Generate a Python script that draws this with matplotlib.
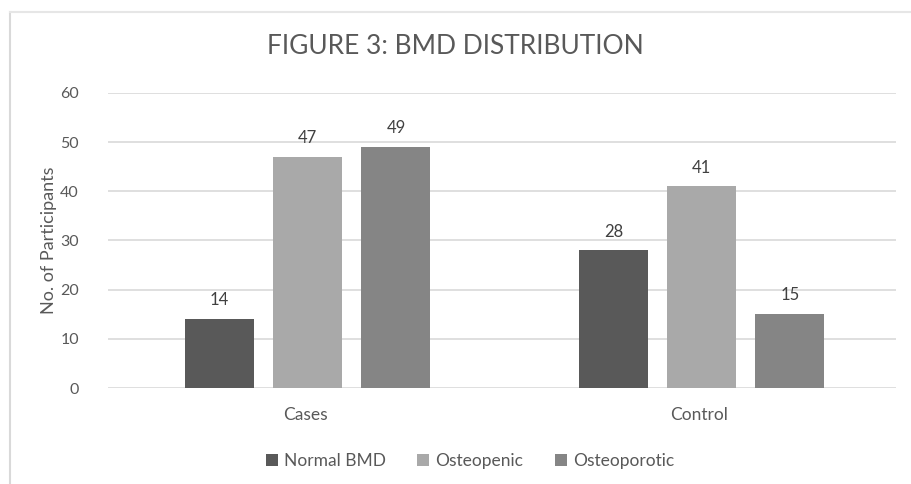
import matplotlib
matplotlib.use("Agg")
import matplotlib.pyplot as plt
import numpy as np
from matplotlib.lines import Line2D

groups = ["Cases", "Control"]
series = ["Normal BMD", "Osteopenic", "Osteoporotic"]
normal_bmd = [14, 28]
osteopenic = [47, 41]
osteoporotic = [49, 15]
y_ticks = [0, 10, 20, 30, 40, 50, 60]

colors = ["#595959", "#a9a9a9", "#858585"]
text_col = "#595959"

plt.rcParams['font.family'] = ['Lato', 'DejaVu Sans']

fig = plt.figure(figsize=(9.11, 4.84), dpi=100)
ax = fig.add_axes([0.1186, 0.1983, 0.8650, 0.6096])

x = np.arange(len(groups))
width = 0.175
step = 0.2236
for i, (name, vals) in enumerate(zip(series, [normal_bmd, osteopenic, osteoporotic])):
    pos = x + (i - 1) * step + 0.007
    bars = ax.bar(pos, vals, width, color=colors[i], label=name, zorder=3)
    for b, v in zip(bars, vals):
        ax.text(b.get_x() + b.get_width() / 2, v + 2.2, str(v),
                ha="center", va="bottom", fontsize=12, color="#404040")

ax.set_xlim(-0.5, 1.5)
ax.set_ylim(0, 60)
ax.set_yticks(y_ticks)
ax.set_xticks(x)
ax.set_xticklabels(groups, fontsize=12.5)
ax.tick_params(axis="both", length=0, colors=text_col)
ax.tick_params(axis="y", labelsize=11.5, pad=21)
ax.tick_params(axis="x", pad=14)
ax.grid(axis="y", color="#d9d9d9", linewidth=1.2, zorder=0)
for s in ax.spines.values():
    s.set_visible(False)

ax.set_ylabel("No. of Participants", fontsize=13, color=text_col)
ax.yaxis.set_label_coords((57 - 108) / 787, 0.5)

fig.text(0.5, 1 - 47 / 484, "FIGURE 3: BMD DISTRIBUTION", ha="center", va="center",
         fontsize=19, color=text_col)

ax.legend(loc="center", bbox_to_anchor=((470 / 911 - 0.1186) / 0.8650, (1 - 461 / 484 - 0.1983) / 0.6096),
          ncol=3, frameon=False, fontsize=12.5, handlelength=0.7, handleheight=0.7,
          handletextpad=0.35, columnspacing=1.8, labelcolor=text_col)

# outer chart frame (left and top edges visible)
fig.add_artist(Line2D([10 / 911, 10 / 911], [0, 1 - 12 / 484], transform=fig.transFigure,
                      color="#d9d9d9", linewidth=1.5))
fig.add_artist(Line2D([10 / 911, 1], [1 - 12 / 484, 1 - 12 / 484], transform=fig.transFigure,
                      color="#e6e6e6", linewidth=1.5))

fig.savefig("out.png", dpi=100)
